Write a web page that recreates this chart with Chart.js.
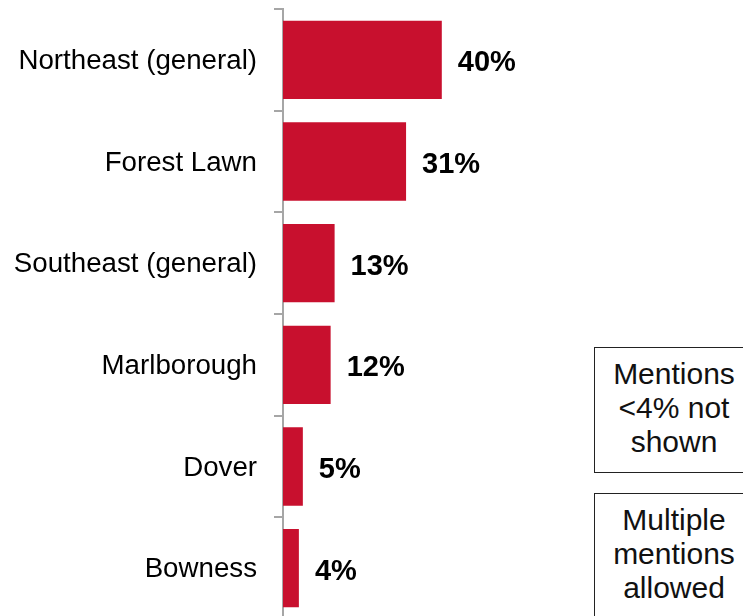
<!DOCTYPE html>
<html>
<head>
<meta charset="utf-8">
<script src="https://cdn.jsdelivr.net/npm/chart.js@4/dist/chart.umd.min.js"></script>
<style>
  html, body { margin: 0; padding: 0; background: #fff; overflow: hidden; }
  #wrap { position: relative; width: 743px; height: 625px; }
  .note {
    position: absolute; box-sizing: border-box; width: 160px;
    border: 1.5px solid #222; background: #fff;
    font-family: "Liberation Sans", Arial, sans-serif; font-size: 30px;
    line-height: 34px; text-align: center; color: #111; padding-top: 8.5px;
  }
</style>
</head>
<body>
<div id="wrap">
  <canvas id="c" width="743" height="625"></canvas>
  <div class="note" style="left:594px; top:347px; height:126px;">Mentions<br>&lt;4% not<br>shown</div>
  <div class="note" style="left:594px; top:493px; height:140px;">Multiple<br>mentions<br>allowed</div>
</div>
<script>
const categories = ["Northeast (general)", "Forest Lawn", "Southeast (general)", "Marlborough", "Dover", "Bowness"];
const values = [40, 31, 13, 12, 5, 4];
const valueLabels = ["40%", "31%", "13%", "12%", "5%", "4%"];

const valueLabelPlugin = {
  id: 'valueLabels',
  afterDatasetsDraw(chart) {
    const ctx = chart.ctx;
    const meta = chart.getDatasetMeta(0);
    ctx.save();
    ctx.font = 'bold 29px "Liberation Sans", Arial, sans-serif';
    ctx.fillStyle = '#000';
    ctx.textAlign = 'left';
    ctx.textBaseline = 'middle';
    meta.data.forEach((bar, i) => {
      ctx.fillText(valueLabels[i], bar.x + 16, bar.y + 3.5);
    });
    ctx.restore();
  }
};

new Chart(document.getElementById('c'), {
  type: 'bar',
  data: {
    labels: categories,
    datasets: [{
      data: values,
      backgroundColor: '#C8102E',
      borderWidth: 0,
      barPercentage: 0.77,
      categoryPercentage: 1.0
    }]
  },
  options: {
    indexAxis: 'y',
    responsive: false,
    animation: false,
    layout: { padding: { left: 0, right: 63, top: 9, bottom: 6 } },
    plugins: { legend: { display: false }, tooltip: { enabled: false } },
    scales: {
      x: { display: false, min: 0, max: 100 },
      y: {
        offset: true,
        afterFit(scale) { scale.width = 283; scale.paddingTop = 0; scale.paddingBottom = 0; },
        border: { display: true, color: '#A6A6A6', width: 2 },
        grid: { drawOnChartArea: false, drawTicks: true, tickLength: 9, color: '#A6A6A6', lineWidth: 2, offset: true },
        ticks: {
          padding: 17,
          labelOffset: 1.5,
          color: '#000',
          font: { family: '"Liberation Sans", Arial, sans-serif', size: 27.7 }
        }
      }
    }
  },
  plugins: [valueLabelPlugin]
});
</script>
</body>
</html>
